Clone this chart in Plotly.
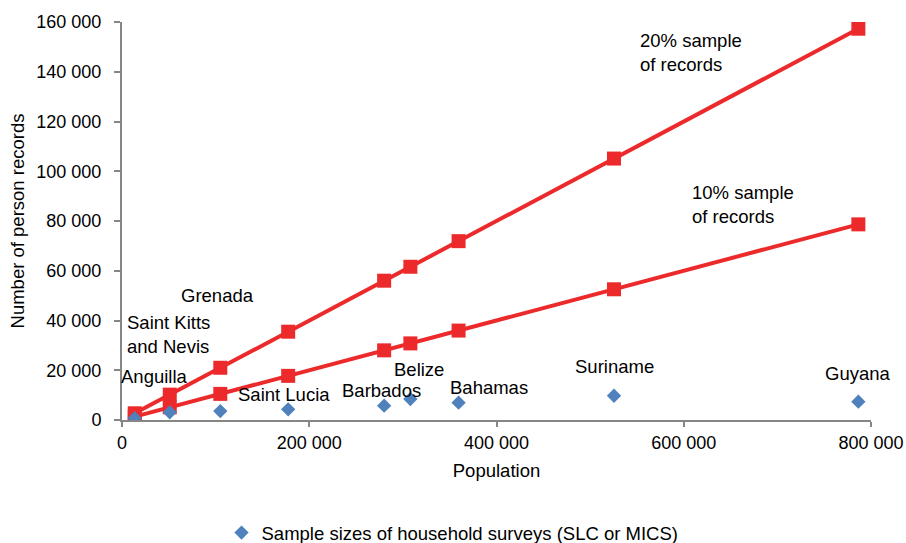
import plotly.graph_objects as go

countries = ["Anguilla", "Saint Kitts and Nevis", "Grenada", "Saint Lucia", "Barbados",
             "Belize", "Bahamas", "Suriname", "Guyana"]
population = [13600, 51000, 105000, 177500, 280000, 308000, 359500, 525500, 786500]
sample_20pct = [2700, 10200, 21000, 35500, 56000, 61600, 71900, 105100, 157300]
sample_10pct = [1350, 5100, 10500, 17750, 28000, 30800, 35950, 52550, 78650]
survey_sizes = [700, 3100, 3600, 4300, 5750, 8450, 6950, 9750, 7350]

label_texts = ["Anguilla", "Saint Kitts<br>and Nevis", "Grenada", "Saint Lucia", "Barbados",
               "Belize", "Bahamas", "Suriname", "Guyana"]
label_shifts = [(20, 42), (-1, 78), (-3, 116), (-4, 15), (-3, 15),
                (9, 29), (30, 15), (0, 29), (0, 28)]

RED = "#EC2A2B"
BLUE = "#4F81BD"
GRAY = "#868686"
FONT = "Liberation Sans, Arial, sans-serif"
LBL = 18.5

fig = go.Figure()
fig.add_trace(go.Scatter(x=population, y=sample_20pct, mode="lines+markers",
                         line=dict(color=RED, width=4),
                         marker=dict(symbol="square", size=14, color=RED),
                         showlegend=False, name="20% sample of records"))
fig.add_trace(go.Scatter(x=population, y=sample_10pct, mode="lines+markers",
                         line=dict(color=RED, width=4),
                         marker=dict(symbol="square", size=14, color=RED),
                         showlegend=False, name="10% sample of records"))
fig.add_trace(go.Scatter(x=population, y=survey_sizes, mode="markers",
                         marker=dict(symbol="diamond", size=11, color=BLUE),
                         name="Sample sizes of household surveys (SLC or MICS)"))

annotations = []
for i, txt in enumerate(label_texts):
    dx, dy = label_shifts[i]
    annotations.append(dict(x=population[i], y=survey_sizes[i], text=txt, showarrow=False,
                            xshift=dx, yshift=dy, align="left",
                            font=dict(size=LBL, color="#000", family=FONT)))
annotations.append(dict(x=551000, y=147800, text="20% sample<br>of records", showarrow=False,
                        xanchor="left", yanchor="middle", align="left",
                        font=dict(size=LBL, color="#000", family=FONT)))
annotations.append(dict(x=606500, y=86800, text="10% sample<br>of records", showarrow=False,
                        xanchor="left", yanchor="middle", align="left",
                        font=dict(size=LBL, color="#000", family=FONT)))

fig.update_layout(
    width=906, height=543,
    margin=dict(l=121.5, r=35, t=21.7, b=123, autoexpand=False),
    paper_bgcolor="white", plot_bgcolor="white",
    separators=". ",
    font=dict(family=FONT, size=18, color="#000"),
    annotations=annotations,
    legend=dict(orientation="h", xref="container", yref="container",
                x=0.2445, xanchor="left", y=1 - 533 / 543, yanchor="middle",
                font=dict(size=LBL, family=FONT), itemwidth=30),
)
fig.update_xaxes(range=[0, 800000], tickvals=[0, 200000, 400000, 600000, 800000],
                 tickformat=",d", showgrid=False, zeroline=False, automargin=False,
                 showline=True, linecolor=GRAY, linewidth=2,
                 ticks="outside", tickcolor=GRAY, ticklen=5, tickwidth=1.5,
                 ticklabelstandoff=0, tickfont=dict(size=18),
                 title=dict(text="Population", font=dict(size=LBL), standoff=12))
fig.update_yaxes(range=[0, 160000], dtick=20000, tickformat=",d", showgrid=False,
                 zeroline=False, showline=True, linecolor=GRAY, linewidth=2,
                 automargin=False,
                 ticks="outside", tickcolor=GRAY, ticklen=6, tickwidth=1.5,
                 ticklabelstandoff=9, tickfont=dict(size=18),
                 title=dict(text="Number of person records", font=dict(size=LBL), standoff=7))

fig.write_html("out.html", config={"displayModeBar": False},
               post_script="document.body.style.margin='0';document.body.style.overflow='hidden';")
